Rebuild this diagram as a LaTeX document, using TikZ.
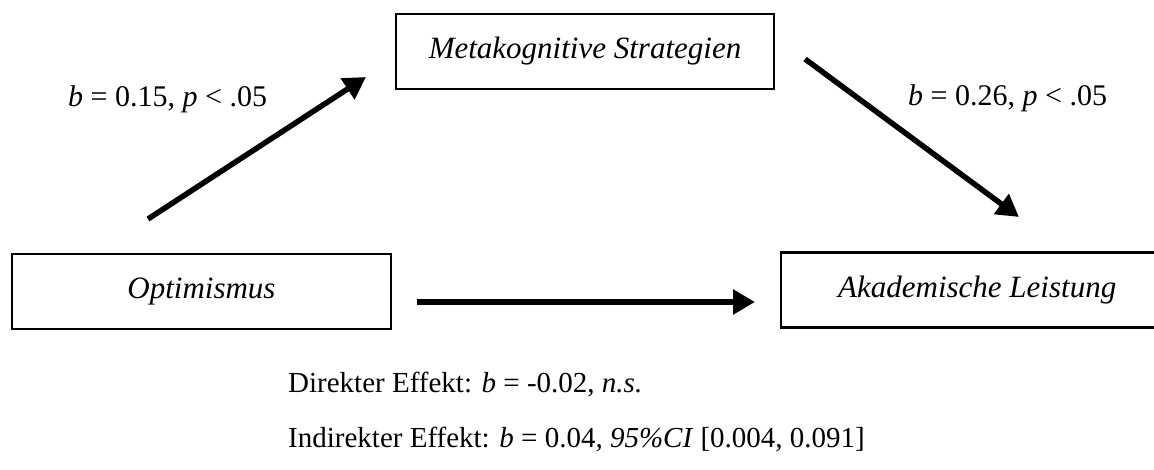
\documentclass[tikz,border=0pt]{standalone}
\usepackage{fontspec}
\setmainfont{Liberation Serif}
\usetikzlibrary{arrows.meta}
\tikzset{
  varbox/.style={draw=black, line width=2.4pt, minimum width=378pt, minimum height=75pt, inner sep=0pt, font=\fontsize{31}{34}\selectfont\itshape},
  patharrow/.style={line width=5.5pt, -{Triangle[length=22pt,width=24pt]}},
  lbl/.style={inner sep=0pt, font=\fontsize{29}{32}\selectfont},
  coef/.style={inner sep=0pt, font=\fontsize{30}{33}\selectfont},
}
\begin{document}
\begin{tikzpicture}[x=1pt,y=-1pt]
\useasboundingbox (0,0) rectangle (1154,470);
\node[varbox] (meta) at (585,51.5) {Metakognitive Strategien};
\node[varbox, minimum width=379pt] (opt) at (201.5,291.5) {Optimismus};
\node[varbox, minimum width=392pt, anchor=west] (akad) at (780,290) {Akademische Leistung};
\coordinate (a1s) at (148,219);
\coordinate (a1e) at (366,77);
\coordinate (a2s) at (805,59);
\coordinate (a2e) at (1019,217);
\coordinate (a3s) at (417,302);
\coordinate (a3e) at (755,302);
\draw[patharrow] (a1s) -- (a1e);
\draw[patharrow] (a2s) -- (a2e);
\draw[patharrow] (a3s) -- (a3e);
\node[coef, anchor=base west] (l1) at (68,107) {\textit{b} = 0.15, \textit{p} < .05};
\node[coef, anchor=base west] (l2) at (908,106) {\textit{b} = 0.26, \textit{p} < .05};
\node[lbl, anchor=base west] (dir) at (288,392) {Direkter Effekt: \textit{b} = -0.02, \textit{n.s.}};
\node[lbl, anchor=base west] (ind) at (288,447) {Indirekter Effekt: \textit{b} = 0.04, \textit{95\%CI} [0.004, 0.091]};
\end{tikzpicture}
\end{document}
